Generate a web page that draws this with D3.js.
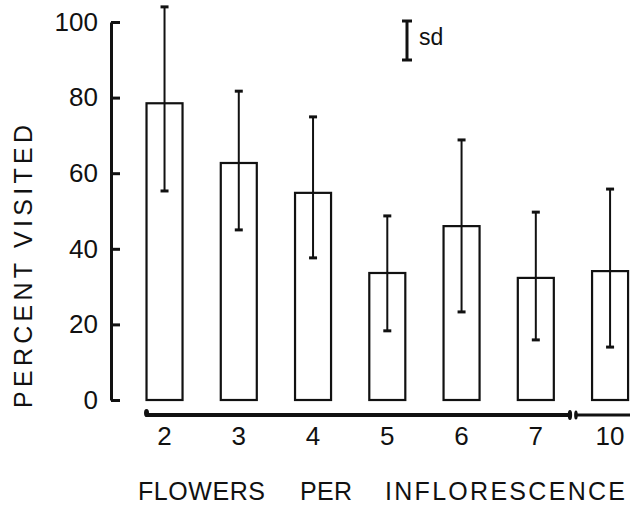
<!DOCTYPE html>
<html>
<head>
<meta charset="utf-8">
<script src="https://cdn.jsdelivr.net/npm/d3@7"></script>
<style>
  body { margin: 0; background: #fff; }
  text { font-family: "Liberation Sans", Arial, sans-serif; fill: #111; }
</style>
</head>
<body>
<div id="chart"></div>
<script>
// values
const categories = ["2", "3", "4", "5", "6", "7", "10"]
const means = [78.5, 62.7, 54.8, 33.6, 46, 32.3, 34.1]
const errHigh = [104, 81.7, 74.9, 48.7, 68.8, 49.7, 55.8]
const errLow = [55.3, 45, 37.6, 18.3, 23.3, 15.9, 14]
const yTicks = [0, 20, 40, 60, 80, 100]
const xTitleWords = ["FLOWERS", "PER", "INFLORESCENCE"]

const MARGIN = { TOP: 22, LEFT: 111 }
const WIDTH = 630
const HEIGHT = 378

const data = categories.map((c, i) => ({ cat: c, mean: means[i], hi: errHigh[i], lo: errLow[i] }))

const svg = d3.select("#chart").append("svg")
  .attr("width", 630)
  .attr("height", 507)

const g = svg.append("g")
  .attr("transform", `translate(${MARGIN.LEFT}, ${MARGIN.TOP})`)

const x = d3.scaleBand()
  .domain(categories)
  .range([16.4, 536.2])
  .paddingInner(0.515)
  .paddingOuter(0.2575)

const y = d3.scaleLinear()
  .domain([0, 100])
  .range([HEIGHT, 0])

// y axis
const yAxis = g.append("g")
  .call(d3.axisLeft(y).tickValues(yTicks).tickSizeInner(-9).tickSizeOuter(0).tickPadding(13))
yAxis.select(".domain").attr("stroke", "#111").attr("stroke-width", 3)
yAxis.selectAll(".tick line").attr("stroke", "#111").attr("stroke-width", 3)
yAxis.selectAll(".tick text")
  .style("font-size", "26px")
  .style("font-family", "'Liberation Sans', Arial, sans-serif")
  .attr("fill", "#111")

// bars
g.selectAll("rect.bar")
  .data(data)
  .enter().append("rect")
    .attr("class", "bar")
    .attr("x", d => x(d.cat))
    .attr("y", d => y(d.mean))
    .attr("width", x.bandwidth())
    .attr("height", d => HEIGHT - y(d.mean))
    .attr("fill", "none")
    .attr("stroke", "#111")
    .attr("stroke-width", 2.2)

// error bars
const cx = d => x(d.cat) + x.bandwidth() / 2
const err = g.selectAll("g.err").data(data).enter().append("g").attr("class", "err")
err.append("line")
  .attr("x1", cx).attr("x2", cx)
  .attr("y1", d => y(d.hi)).attr("y2", d => y(d.lo))
  .attr("stroke", "#111").attr("stroke-width", 2)
err.append("line")
  .attr("x1", d => cx(d) - 4).attr("x2", d => cx(d) + 4)
  .attr("y1", d => y(d.hi)).attr("y2", d => y(d.hi))
  .attr("stroke", "#111").attr("stroke-width", 3)
err.append("line")
  .attr("x1", d => cx(d) - 4).attr("x2", d => cx(d) + 4)
  .attr("y1", d => y(d.lo)).attr("y2", d => y(d.lo))
  .attr("stroke", "#111").attr("stroke-width", 3)

// x axis: labels from axis, line drawn with a break between 7 and 10
const xAxis = g.append("g")
  .attr("transform", `translate(0, ${HEIGHT + 19})`)
  .call(d3.axisBottom(x).tickSize(0).tickPadding(8))
xAxis.select(".domain").remove()
xAxis.selectAll(".tick text")
  .style("font-size", "26px")
  .style("font-family", "'Liberation Sans', Arial, sans-serif")
  .attr("fill", "#111")

const lineY = HEIGHT + 15
const x0 = x(categories[0]) - 1
const brk = (x(categories[5]) + x(categories[6]) + x.bandwidth()) / 2
g.append("line")
  .attr("x1", x0).attr("x2", brk - 3)
  .attr("y1", lineY).attr("y2", lineY)
  .attr("stroke", "#111").attr("stroke-width", 4)
g.append("line")
  .attr("x1", brk + 3).attr("x2", WIDTH)
  .attr("y1", lineY).attr("y2", lineY)
  .attr("stroke", "#111").attr("stroke-width", 3)
g.append("ellipse")
  .attr("cx", x0 + 1).attr("cy", lineY - 2).attr("rx", 2.5).attr("ry", 4).attr("fill", "#111")
g.append("ellipse")
  .attr("cx", brk - 3).attr("cy", lineY).attr("rx", 2.2).attr("ry", 5).attr("fill", "#111")
g.append("ellipse")
  .attr("cx", brk + 3).attr("cy", lineY).attr("rx", 1.8).attr("ry", 4.5).attr("fill", "#111")

// sd key
const keyX = 407
svg.append("line")
  .attr("x1", keyX).attr("x2", keyX).attr("y1", 21).attr("y2", 60)
  .attr("stroke", "#111").attr("stroke-width", 3)
svg.append("line")
  .attr("x1", keyX - 5).attr("x2", keyX + 5).attr("y1", 21).attr("y2", 21)
  .attr("stroke", "#111").attr("stroke-width", 3)
svg.append("line")
  .attr("x1", keyX - 5).attr("x2", keyX + 5).attr("y1", 60).attr("y2", 60)
  .attr("stroke", "#111").attr("stroke-width", 3)
svg.append("text")
  .attr("x", 419).attr("y", 45)
  .style("font-size", "23px")
  .text("sd")

// axis titles
svg.append("text")
  .attr("transform", "translate(32, 408) rotate(-90)")
  .attr("x", 0).attr("y", 0)
  .attr("textLength", 283)
  .attr("lengthAdjust", "spacing")
  .style("font-size", "25px")
  .text("PERCENT VISITED")

// word positions [start, length] along the bottom title
const wordSpans = [[138, 127], [300, 52], [385, 240]]
svg.selectAll("text.xtitle")
  .data(xTitleWords)
  .enter().append("text")
    .attr("class", "xtitle")
    .attr("x", (d, i) => wordSpans[i][0])
    .attr("y", 500)
    .attr("textLength", (d, i) => wordSpans[i][1])
    .attr("lengthAdjust", "spacing")
    .style("font-size", "25px")
    .text(d => d)
</script>
</body>
</html>
